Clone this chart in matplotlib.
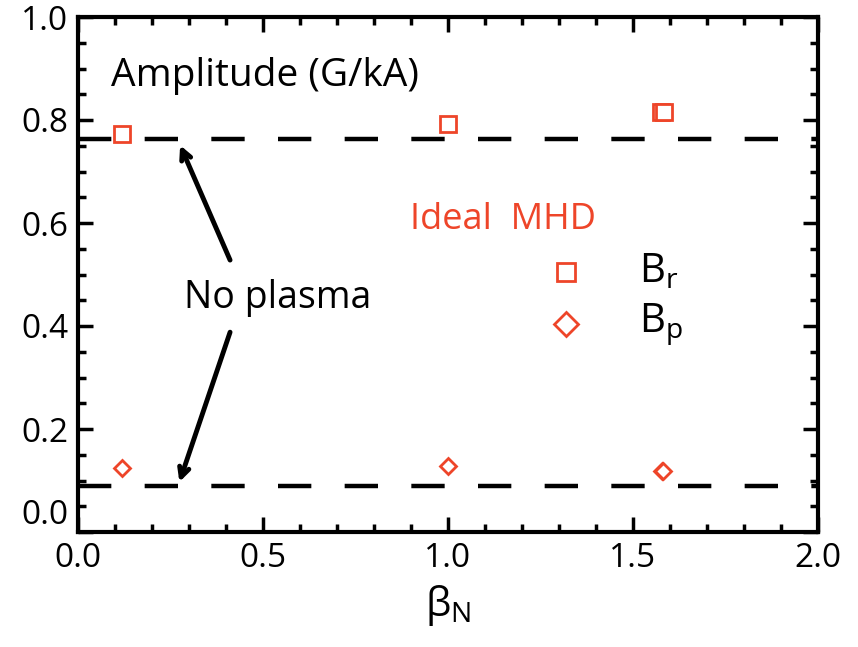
import matplotlib
matplotlib.use("Agg")
import matplotlib.pyplot as plt
from matplotlib.ticker import MultipleLocator

plt.rcParams['font.family'] = ['Open Sans', 'DejaVu Sans']

# data
beta_br = [0.12, 1.0, 1.576, 1.584]
br_vals = [0.773, 0.793, 0.815, 0.815]
beta_bp = [0.12, 1.0, 1.578, 1.582]
bp_vals = [0.124, 0.128, 0.118, 0.118]
noplasma_br = 0.763
noplasma_bp = 0.089
xticks = [0.0, 0.5, 1.0, 1.5, 2.0]
yticks = [0.0, 0.2, 0.4, 0.6, 0.8, 1.0]

red = '#EE4529'

fig = plt.figure(figsize=(8.58, 6.47), dpi=100)
ax = fig.add_axes([78/858, 1-532/647, (818-78)/858, (532-17)/647])
ax.set_xlim(0, 2.0)
ax.set_ylim(0, 1.0)

ax.axhline(noplasma_br, color='black', lw=3.2, dashes=(7.5, 7.5), zorder=1)
ax.axhline(noplasma_bp, color='black', lw=3.2, dashes=(7.5, 7.5), zorder=1)

ax.plot(beta_br, br_vals, ls='none', marker='s', ms=12, mfc='white', mec=red, mew=2, zorder=3)
ax.plot(beta_bp, bp_vals, ls='none', marker='D', ms=8.5, mfc='white', mec=red, mew=2, zorder=3)

ax.set_xticks(xticks)
ax.set_yticks(yticks)
ax.set_xticklabels([f"{v:.1f}" for v in xticks])
ax.set_yticklabels([f"{v:.1f}" for v in yticks])
ax.xaxis.set_minor_locator(MultipleLocator(0.1))
ax.yaxis.set_minor_locator(MultipleLocator(0.05))
ax.tick_params(which='both', direction='in', top=True, right=True, width=2.5, labelsize=24, colors='black')
ax.tick_params(which='major', length=11, pad=7)
ax.tick_params(which='minor', length=6)
for lbl in ax.get_yticklabels():
    if lbl.get_text() == '0.0':
        lbl.set_va('bottom')
for s in ax.spines.values():
    s.set_linewidth(3)

ax.set_xlabel(r'$\mathregular{\beta_N}$', fontsize=29, labelpad=6)

ax.text(0.045, 0.885, 'Amplitude (G/kA)', transform=ax.transAxes, fontsize=28, va='center', ha='left')
ax.text(1.149, 0.605, 'Ideal  MHD', color=red, fontsize=26, va='center', ha='center')
ax.plot([1.32], [0.505], ls='none', marker='s', ms=13, mfc='white', mec=red, mew=2)
ax.plot([1.32], [0.403], ls='none', marker='D', ms=12.5, mfc='white', mec=red, mew=2)
ax.text(1.515, 0.505, r'B$_\mathregular{r}$', fontsize=29, va='center', ha='left')
ax.text(1.515, 0.403, r'B$_\mathregular{p}$', fontsize=29, va='center', ha='left')

ax.text(0.54, 0.455, 'No plasma', fontsize=27, va='center', ha='center')
ax.annotate('', xy=(0.276, 0.751), xytext=(0.411, 0.528),
            arrowprops=dict(arrowstyle='->,head_length=0.7,head_width=0.35', color='black', lw=3.5,
                            shrinkA=0, shrinkB=0))
ax.annotate('', xy=(0.274, 0.097), xytext=(0.411, 0.388),
            arrowprops=dict(arrowstyle='->,head_length=0.7,head_width=0.35', color='black', lw=3.5,
                            shrinkA=0, shrinkB=0))

fig.savefig('out.png', dpi=100)
